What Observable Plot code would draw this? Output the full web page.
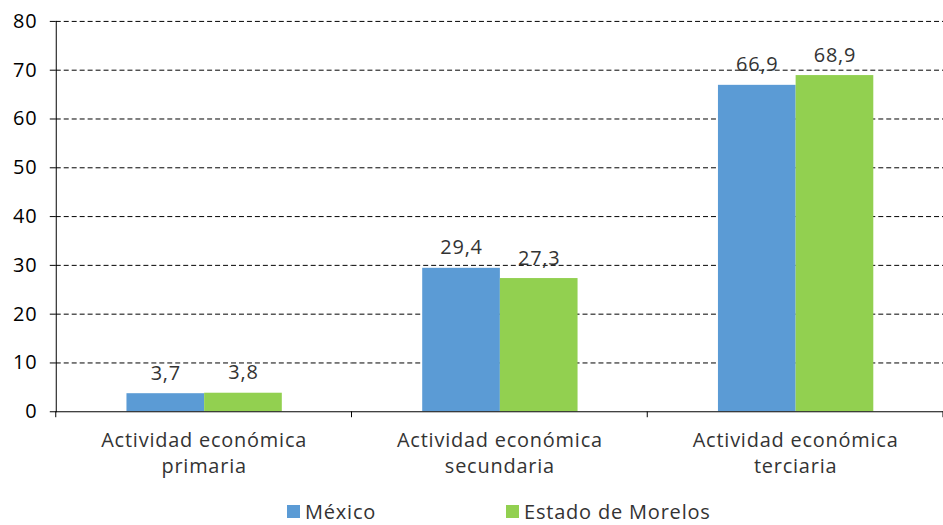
<!DOCTYPE html>
<html><head><meta charset="utf-8">
<script src="https://cdn.jsdelivr.net/npm/d3@7"></script>
<script src="https://cdn.jsdelivr.net/npm/@observablehq/plot@0.6"></script>
<style>
body{margin:0;overflow:hidden;background:#fff;font-family:"Open Sans",sans-serif;}
#chart svg{display:block}
#legend{display:flex;align-items:center;height:22px;padding-left:287px;font-size:20px;line-height:20px;color:#333;font-weight:400;letter-spacing:0.8px}
.item{display:flex;align-items:center}
.sw{width:13px;height:13px;margin-right:5px}
</style></head><body><div id="chart"></div><div id="legend"></div>
<script>
const categories = ["Actividad económica\nprimaria", "Actividad económica\nsecundaria", "Actividad económica\nterciaria"];
const series = ["México", "Estado de Morelos"];
const mexico = [3.7, 29.4, 66.9];
const morelos = [3.8, 27.3, 68.9];
const yTicks = [0, 10, 20, 30, 40, 50, 60, 70, 80];
const gridTicks = [10, 20, 30, 40, 50, 60, 70, 80];
const colors = ["#5B9BD5", "#92D050"];

const rows = categories.flatMap((c, i) => [
  {category: c, serie: series[0], value: mexico[i]},
  {category: c, serie: series[1], value: morelos[i]}
]);
const fmt = v => v.toFixed(1).replace(".", ",");

const chart = Plot.plot({
  width: 947, height: 503,
  marginLeft: 55, marginRight: 0, marginTop: 21, marginBottom: 90,
  style: {fontFamily: "'Open Sans', sans-serif", fontSize: "20px", color: "#000", background: "#fff", fontWeight: 400, letterSpacing: "0.8px"},
  facet: {data: rows, x: "category"},
  fx: {domain: categories, padding: 0, label: null},
  x: {domain: series, paddingInner: 0, paddingOuter: 0.9, axis: null},
  y: {domain: [0, 80], ticks: yTicks, tickSize: 6, tickPadding: 13, line: true, label: null},
  color: {domain: series, range: colors},
  marks: [
    Plot.ruleY(gridTicks, {stroke: "#000", strokeDasharray: "5,3", strokeWidth: 1}),
    Plot.barY(rows, {x: "serie", y: "value", fill: "serie"}),
    Plot.ruleY([0], {stroke: "#000", strokeWidth: 1}),
    Plot.text(rows, {x: "serie", y: "value", text: d => fmt(d.value), dy: -14, lineAnchor: "bottom", fill: "#333"}),
    Plot.axisFx({anchor: "bottom", tickSize: 0, tickPadding: 17, lineHeight: 1.3, label: null, fill: "#333"})
  ]
});
document.getElementById("chart").appendChild(chart);

// category boundary ticks from the fx scale
const fx = chart.scale("fx");
const ys = chart.scale("y");
const y0 = ys.apply(0);
const bounds = categories.map(c => fx.apply(c));
bounds.push(fx.apply(categories[categories.length - 1]) + fx.bandwidth);
d3.select(chart).append("g").selectAll("line").data(bounds).join("line")
  .attr("x1", d => d).attr("x2", d => d)
  .attr("y1", y0).attr("y2", y0 + 6)
  .attr("stroke", "#000");

const legend = d3.select("#legend");
series.forEach((s, i) => {
  const it = legend.append("div").attr("class", "item").style("width", i === 0 ? "219px" : null);
  it.append("div").attr("class", "sw").style("background", colors[i]);
  it.append("span").text(s);
});
</script></body></html>
